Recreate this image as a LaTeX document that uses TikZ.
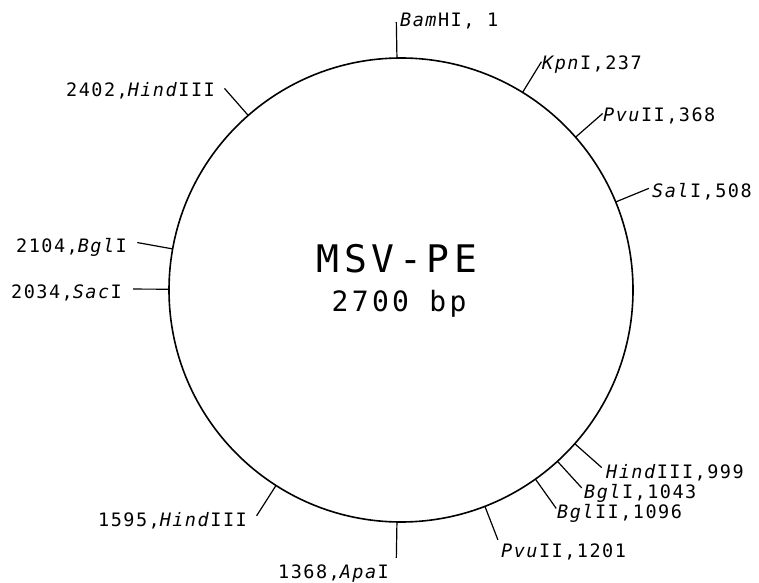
\documentclass[tikz,border=0pt]{standalone}
\usepackage{fontspec}
\newfontfamily\lblfont[LetterSpace=8]{DejaVu Sans Mono}
\newfontfamily\ctrfont[LetterSpace=12]{DejaVu Sans Mono}
\usetikzlibrary{calc}
\tikzset{
  circ/.style={line width=1.6pt},
  sitetick/.style={line width=1.2pt},
  lbl/.style={inner sep=0pt, font=\lblfont\fontsize{18.5}{20}\selectfont},
  ctr/.style={inner sep=0pt, font=\ctrfont\fontsize{38}{40}\selectfont},
  ctrsmall/.style={inner sep=0pt, font=\ctrfont\fontsize{28}{30}\selectfont},
}
\begin{document}
\begin{tikzpicture}[x=1pt,y=1pt]
\useasboundingbox (0,0) rectangle (759,582);
\coordinate (c) at (401,292);
\draw[circ] (c) circle[radius=232];
\foreach \n/\a in {bam/91, kpn/58.4, pvua/41.2, sal/22.3, hinda/131.2, bgla/169.8, sac/179.8,
                   hindb/-41.5, bglb/-47.6, bglii/-54.6, pvub/-68.8, apa/-91, hindc/-122.6}{
  \coordinate (\n-in) at ($(c)+(\a:232)$);
  \coordinate (\n-out) at ($(c)+(\a:268)$);
  \draw[sitetick] (\n-in) -- (\n-out);
}
\node[ctr, anchor=base] (title) at (397,310) {MSV-PE};
\node[ctrsmall, anchor=base] (size) at (399,271) {2700 bp};
\node[lbl, anchor=base west] (lbam) at (400,555) {\textit{Bam}HI, 1};
\node[lbl, anchor=base west] (lkpn) at (542,512) {\textit{Kpn}I,237};
\node[lbl, anchor=base west] (lpvua) at (603,460) {\textit{Pvu}II,368};
\node[lbl, anchor=base west] (lsal) at (652,385) {\textit{Sal}I,508};
\node[lbl, anchor=base east] (lhinda) at (215,485) {2402,\textit{Hind}III};
\node[lbl, anchor=base east] (lbgla) at (127,330) {2104,\textit{Bgl}I};
\node[lbl, anchor=base east] (lsac) at (122,284) {2034,\textit{Sac}I};
\node[lbl, anchor=base west] (lhindb) at (606,104) {\textit{Hind}III,999};
\node[lbl, anchor=base west] (lbglb) at (584,84) {\textit{Bgl}I,1043};
\node[lbl, anchor=base west] (lbglii) at (557,64) {\textit{Bgl}II,1096};
\node[lbl, anchor=base west] (lpvub) at (501,25) {\textit{Pvu}II,1201};
\node[lbl, anchor=base east] (lapa) at (389,4) {1368,\textit{Apa}I};
\node[lbl, anchor=base east] (lhindc) at (247,56) {1595,\textit{Hind}III};
\end{tikzpicture}
\end{document}
